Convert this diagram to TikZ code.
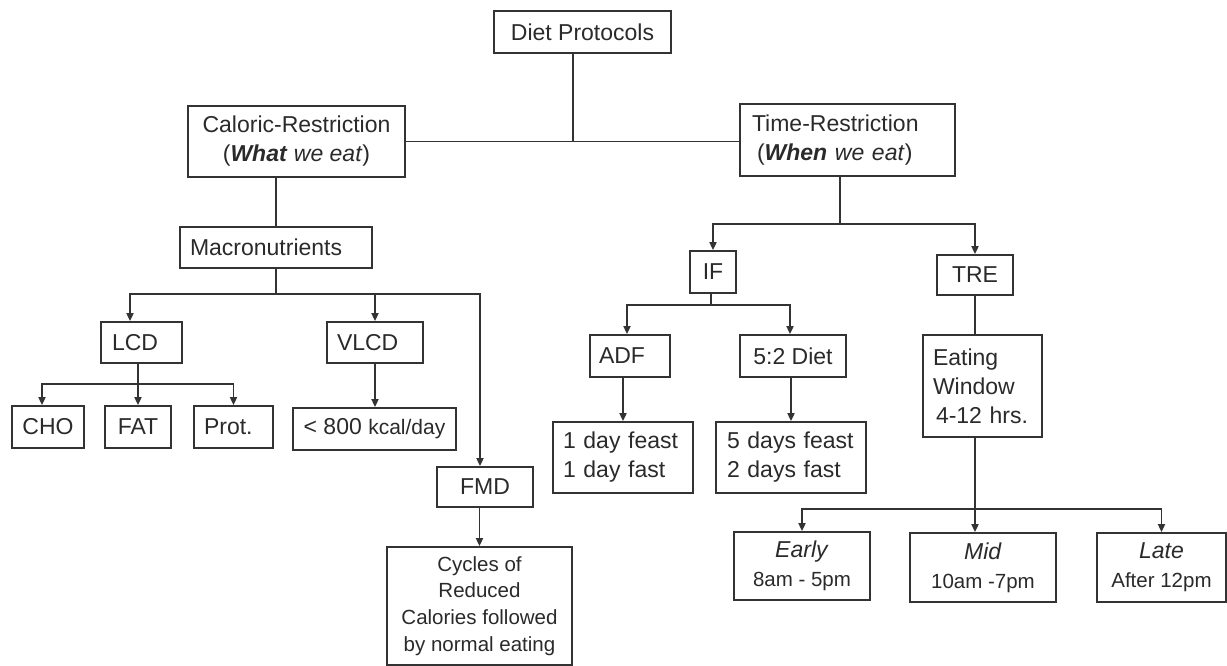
\documentclass[tikz,border=0pt]{standalone}
\usepackage{fontspec}
\setmainfont{Liberation Sans}
\usetikzlibrary{arrows.meta}
\definecolor{lc}{HTML}{333333}
\definecolor{tc}{HTML}{2A2A2A}
\newcommand{\fsA}{\fontsize{23}{29}\selectfont}
\newcommand{\fsB}{\fontsize{20.5}{26.7}\selectfont}
\begin{document}
\begin{tikzpicture}[x=1pt,y=-1pt,
  ln/.style={draw=lc,line width=1.8pt},
  arr/.style={ln,-{Triangle[length=8pt,width=7pt]}},
  box/.style={draw=lc,line width=1.8pt,text=tc,font=\fsA,inner sep=0pt,align=center},
  lbox/.style={box,align=left}
]
\useasboundingbox (0,0) rectangle (1227,666);

% ---- nodes ----
\node[box,minimum width=177pt,minimum height=42pt] (dp) at (582.5,32) {Diet Protocols};
\node[box,minimum width=217pt,minimum height=71pt] (cr) at (296.5,141.5)
  {Caloric-Restriction\\(\textbf{\textit{What}} \textit{we eat})};
\node[lbox,minimum width=215pt,minimum height=72pt,text width=191pt,inner xsep=12pt] (tr) at (847.5,140)
  {Time-Restriction\\\hspace*{5pt}(\textbf{\textit{When}} \textit{we eat})};

\node[lbox,minimum width=192pt,minimum height=41pt,text width=172pt,inner xsep=10pt] (macro) at (276,247.5) {Macronutrients};
\node[lbox,minimum width=81pt,minimum height=41pt,text width=59pt,inner xsep=11pt] (lcd) at (141.5,342.5) {LCD};
\node[lbox,minimum width=96pt,minimum height=41pt,text width=76pt,inner xsep=10pt] (vlcd) at (375,342.5) {VLCD};
\node[box,minimum width=72pt,minimum height=42pt] (cho) at (48,427) {CHO};
\node[box,minimum width=66pt,minimum height=42pt] (fat) at (138,427) {FAT};
\node[lbox,minimum width=79pt,minimum height=42pt,text width=59pt,inner xsep=10pt] (prot) at (233.5,427) {Prot.};
\node[box,minimum width=163pt,minimum height=42pt] (kcal) at (374.5,429) {< 800 {\fontsize{21}{25}\selectfont kcal/day}};
\node[box,minimum width=96pt,minimum height=40pt] (fmd) at (485,487) {FMD};
\node[box,minimum width=185pt,minimum height=118pt,font=\fsB] (cycles) at (479.5,606)
  {Cycles of\\Reduced\\Calories followed\\by normal eating};

\node[box,minimum width=46pt,minimum height=42pt] (nif) at (713,272) {IF};
\node[box,minimum width=76pt,minimum height=40pt] (tre) at (975,275) {TRE};
\node[lbox,minimum width=80pt,minimum height=42pt,text width=62pt,inner xsep=9pt] (adf) at (630,356) {ADF};
\node[box,minimum width=106pt,minimum height=42pt] (d52) at (793,356) {5:2 Diet};
\node[lbox,minimum width=140pt,minimum height=71pt,text width=120pt,inner xsep=10pt] (f1) at (623,457.5)
  {1 day feast\\1 day fast};
\node[lbox,minimum width=150pt,minimum height=71pt,text width=128pt,inner xsep=11pt] (f2) at (791,457.5)
  {5 days feast\\2 days fast};
\node[lbox,minimum width=119pt,minimum height=102pt,text width=99pt,inner xsep=10pt] (eat) at (982.5,386)
  {Eating\\Window\\\hspace*{3pt}4-12 hrs.};
\node[box,minimum width=136pt,minimum height=68pt] (early) at (802,566)
  {\textit{Early}\\{\fsB 8am - 5pm}};
\node[box,minimum width=146pt,minimum height=69pt] (mid) at (983,567.5)
  {\textit{Mid}\\{\fsB 10am -7pm}};
\node[box,minimum width=129pt,minimum height=69pt] (late) at (1161.5,567.5)
  {\textit{Late}\\{\fsB After 12pm}};

% ---- connectors: top ----
\coordinate (jtop) at (573,141);
\draw[ln] (dp.south -| jtop) -- (jtop);
\draw[ln] (cr.east) -- (cr.east -| tr.west);

% ---- left branch ----
\draw[ln] (cr.south -| macro.north) -- (macro.north);
\coordinate (jm) at (276,294);
\draw[ln] (macro.south) -- (jm);
\draw[arr] (jm) -| ([xshift=-11.5pt]lcd.north);
\draw[arr] (jm) -| (vlcd.north);
\draw[arr] (jm) -| ([xshift=-5pt]fmd.north);
\coordinate (jl) at (138,384);
\draw[arr] (lcd.south -| fat.north) -- (fat.north);
\draw[arr] (jl) -| ([xshift=-6pt]cho.north);
\draw[arr] (jl) -| (prot.north);
\draw[arr] (vlcd.south) -- (vlcd.south |- kcal.north);
\draw[arr] (fmd.south -| cycles.north) -- (cycles.north);

% ---- right branch ----
\coordinate (jt) at (840,224);
\draw[ln] (tr.south -| jt) -- (jt);
\draw[arr] (jt) -| (nif.north);
\draw[arr] (jt) -| (tre.north);
\coordinate (ji) at (711,305);
\draw[ln] (nif.south -| ji) -- (ji);
\draw[arr] (ji) -| ([xshift=-3pt]adf.north);
\draw[arr] (ji) -| ([xshift=-3pt]d52.north);
\draw[arr] (adf.south -| f1.north) -- (f1.north);
\draw[arr] (d52.south -| f2.north) -- (f2.north);
\draw[ln] (tre.south) -- (tre.south |- eat.north);
\coordinate (je) at (975,509);
\draw[arr] (eat.south -| je) -- (je |- mid.north);
\draw[arr] (je) -| (early.north);
\draw[arr] (je) -| (late.north);
\end{tikzpicture}
\end{document}
